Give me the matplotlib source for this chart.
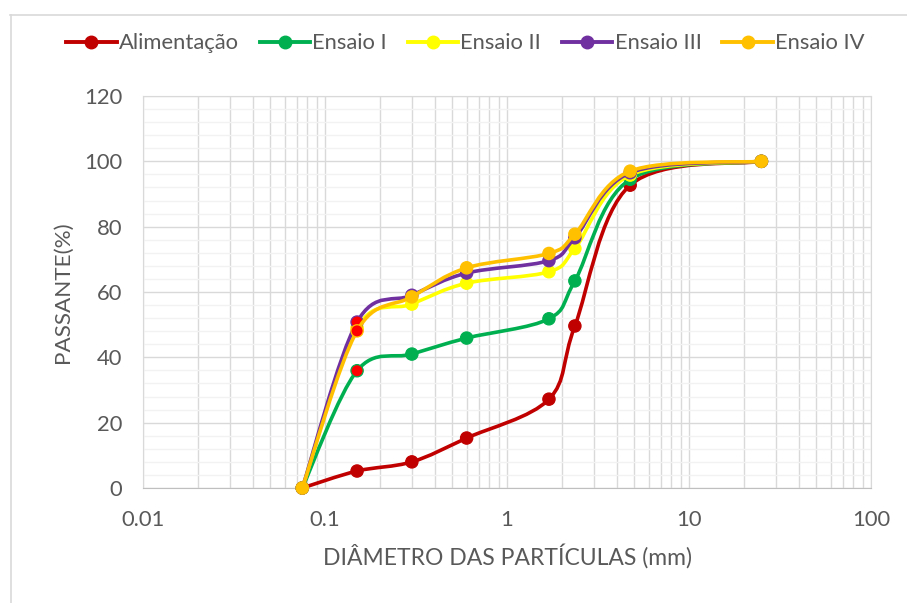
import numpy as np
import matplotlib.pyplot as plt
from matplotlib.path import Path
from matplotlib.patches import PathPatch
from matplotlib.lines import Line2D
from matplotlib.ticker import LogLocator, MultipleLocator, FixedLocator, FixedFormatter, NullFormatter

plt.rcParams['font.family'] = ['Lato', 'DejaVu Sans']

# abertura das peneiras (mm) e % passante acumulado
diametro = [0.075, 0.15, 0.3, 0.6, 1.7, 2.36, 4.75, 25.0]
alimentacao = [0, 5.2, 8.0, 15.3, 27.2, 49.6, 92.7, 100]
ensaio_1 = [0, 35.9, 41.0, 45.9, 51.8, 63.4, 94.5, 100]
ensaio_2 = [0, 49.0, 56.3, 62.7, 66.2, 73.3, 95.8, 100]
ensaio_3 = [0, 50.8, 59.0, 65.8, 69.6, 76.6, 96.5, 100]
ensaio_4 = [0, 48.1, 58.5, 67.4, 71.8, 77.7, 97.0, 100]

nomes = ['Alimentação', 'Ensaio I', 'Ensaio II', 'Ensaio III', 'Ensaio IV']
series = [alimentacao, ensaio_1, ensaio_2, ensaio_3, ensaio_4]
cores = ['#C00000', '#00B050', '#FFFF00', '#7030A0', '#FFC000']

x_ticks = [0.01, 0.1, 1, 10, 100]
x_labels = ['0.01', '0.1', '1', '10', '100']
y_ticks = [0, 20, 40, 60, 80, 100, 120]

txt = '#595959'
grade = '#D9D9D9'


def curva_suave(x, y):
    # bezier tipo Catmull-Rom no espaco (log x, y), como a linha suavizada do Excel
    lx = np.log10(x)
    p = np.column_stack([lx, y])
    n = len(p)
    verts = [p[0]]
    codes = [Path.MOVETO]
    for i in range(n - 1):
        p0 = p[max(i - 1, 0)]
        p1 = p[i]
        p2 = p[i + 1]
        p3 = p[min(i + 2, n - 1)]
        c1 = p1 + (p2 - p0) / 6.0
        c2 = p2 - (p3 - p1) / 6.0
        verts += [c1, c2, p2]
        codes += [Path.CURVE4] * 3
    verts = np.array(verts)
    verts[:, 0] = 10 ** verts[:, 0]
    return Path(verts, codes)


fig = plt.figure(figsize=(9.07, 6.03), dpi=100)
ax = fig.add_axes([0.1577, 0.1907, 0.8026, 0.6501])

for k, (nome, ys, c) in enumerate(zip(nomes, series, cores)):
    ax.add_patch(PathPatch(curva_suave(diametro, ys), fill=False, edgecolor=c,
                           lw=2.6, capstyle='round', joinstyle='round',
                           zorder=3 + k, clip_on=False))
    faces = [c] * len(ys)
    if k > 0:
        faces[1] = '#FF0000'
    ax.scatter(diametro, ys, s=78, facecolors=faces, edgecolors=c,
               linewidths=0.9, zorder=3.5 + k, clip_on=False)

ax.set_xscale('log')
ax.set_xlim(0.01, 100)
ax.set_ylim(0, 120)

ax.xaxis.set_major_locator(FixedLocator(x_ticks))
ax.xaxis.set_major_formatter(FixedFormatter(x_labels))
ax.xaxis.set_minor_locator(LogLocator(base=10, subs=np.arange(2, 10), numticks=20))
ax.xaxis.set_minor_formatter(NullFormatter())
ax.yaxis.set_major_locator(FixedLocator(y_ticks))
ax.yaxis.set_minor_locator(MultipleLocator(4))

ax.grid(True, which='major', axis='both', color=grade, lw=1.0, zorder=0)
ax.grid(True, which='minor', axis='x', color=grade, lw=1.0, zorder=0)
ax.grid(True, which='minor', axis='y', color='#F2F2F2', lw=1.0, zorder=0)
ax.set_axisbelow(True)

for lado in ['top', 'right', 'left']:
    ax.spines[lado].set_color(grade)
ax.spines['bottom'].set_color('#BFBFBF')

ax.tick_params(which='both', length=0)
ax.tick_params(axis='x', pad=16, labelsize=15.8, labelcolor=txt)
ax.tick_params(axis='y', pad=15, labelsize=15.8, labelcolor=txt)

ax.set_xlabel('DIÂMETRO DAS PARTÍCULAS (mm)', fontsize=16.5, color=txt, labelpad=10)
ax.set_ylabel('PASSANTE(%)', fontsize=16.2, color=txt, labelpad=8)

handles = [Line2D([], [], color=c, lw=2.8, marker='o', ms=9, mfc=c, mec=c)
           for c in cores]
fig.legend(handles, nomes, loc='center', bbox_to_anchor=(0.513, 0.928), ncol=5,
           frameon=False, fontsize=15.8, labelcolor=txt, handlelength=2.3,
           handletextpad=0.1, columnspacing=0.95)

# moldura da area do grafico
fig.add_artist(Line2D([10.5 / 907, 10.5 / 907], [0, 1 - 15 / 603],
                      transform=fig.transFigure, color=grade, lw=1.2))
fig.add_artist(Line2D([10 / 907, 1], [1 - 15 / 603, 1 - 15 / 603],
                      transform=fig.transFigure, color=grade, lw=1.2))

fig.savefig('out.png', dpi=100)
